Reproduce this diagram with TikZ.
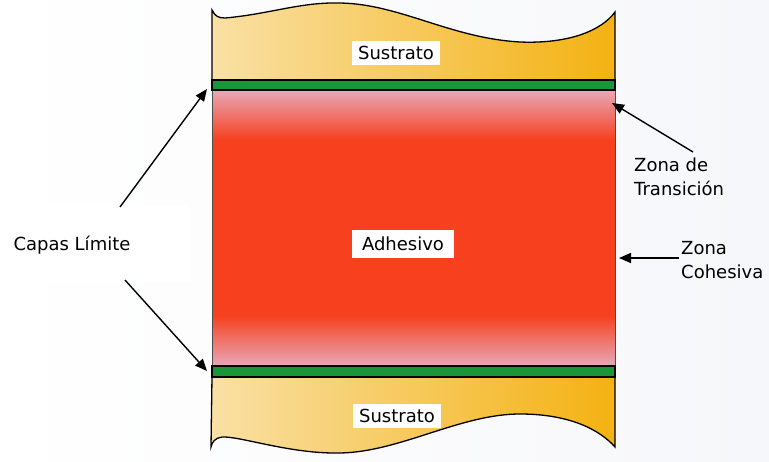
\documentclass[tikz,border=0pt]{standalone}
\usepackage{fontspec}
\setmainfont{DejaVu Sans}
\usetikzlibrary{arrows.meta}
\definecolor{sublight}{RGB}{249,224,165}
\definecolor{subdark}{RGB}{244,178,18}
\definecolor{adhred}{RGB}{246,64,30}
\definecolor{adhpink}{RGB}{232,168,184}
\definecolor{bandgreen}{RGB}{26,150,56}
\definecolor{bgright}{RGB}{246,247,250}
\tikzset{
  lbl/.style={font=\fontsize{18}{24}\selectfont, inner sep=0pt, align=left},
  boxlbl/.style={lbl, fill=white, inner xsep=6pt, inner ysep=5pt},
  outline/.style={draw=black, line width=1.3pt},
  ptr/.style={draw=black, line width=1.4pt, -{Triangle[length=12pt,width=10pt]}},
}
\begin{document}
\begin{tikzpicture}[x=1pt,y=-1pt]
\useasboundingbox (0,0) rectangle (769,461);
\shade[left color=white, right color=bgright] (0,0) rectangle (769,461);
\fill[white] (0,205) rectangle (190,282);
% top substrate
\shade[left color=sublight, right color=subdark]
  (212,10) .. controls (215,16) and (218,18) .. (225,18)
  .. controls (270,14) and (300,2) .. (340,3)
  .. controls (400,4) and (450,38) .. (520,42)
  .. controls (570,44) and (602,30) .. (615,12) -- (615,80) -- (212,80) -- cycle;
\draw[outline]
  (212,80) -- (212,10) .. controls (215,16) and (218,18) .. (225,18)
  .. controls (270,14) and (300,2) .. (340,3)
  .. controls (400,4) and (450,38) .. (520,42)
  .. controls (570,44) and (602,30) .. (615,12) -- (615,80);
% bottom substrate
\shade[left color=sublight, right color=subdark]
  (212,377) -- (615,377) -- (615,447)
  .. controls (600,430) and (570,414) .. (520,414)
  .. controls (460,414) and (400,452) .. (340,453)
  .. controls (290,454) and (240,436) .. (222,437)
  .. controls (215,438) and (212,442) .. (211,447) -- cycle;
\draw[outline]
  (615,377) -- (615,447)
  .. controls (600,430) and (570,414) .. (520,414)
  .. controls (460,414) and (400,452) .. (340,453)
  .. controls (290,454) and (240,436) .. (222,437)
  .. controls (215,438) and (212,442) .. (211,447) -- (212,377);
% adhesive
\fill[adhred] (212,140) rectangle (615,315);
\shade[top color=adhpink, bottom color=adhred] (212,90) rectangle (615,140);
\shade[top color=adhred, bottom color=adhpink] (212,315) rectangle (615,366);
\draw[black!70, line width=0.8pt] (212,90) -- (212,366) (615,90) -- (615,366);
% green bands
\fill[bandgreen] (212,80) rectangle (615,90);
\draw[black, line width=1.2pt] (212,80) rectangle (615,90);
\fill[bandgreen] (212,366) rectangle (615,377);
\draw[black, line width=1.2pt] (212,366) rectangle (615,377);
% labels
\node[boxlbl] (sustop) at (396,53) {Sustrato};
\node[boxlbl] (susbot) at (397,416) {Sustrato};
\node[boxlbl, inner xsep=10pt, inner ysep=7pt] (adh) at (403,244) {Adhesivo};
\node[lbl] (capas) at (72,245) {Capas Límite};
\node[lbl, anchor=north west] (trans) at (634,158) {Zona de\\Transición};
\node[lbl, anchor=north west] (cohes) at (681,241) {Zona\\Cohesiva};
% arrow targets
\coordinate (capasA) at (120,207);
\coordinate (capasB) at (125,280);
\coordinate (tgtTop) at (207,89);
\coordinate (tgtBot) at (207,371);
\coordinate (transA) at (693,152);
\coordinate (tgtTrans) at (612,103);
\coordinate (cohesA) at (679,258);
\coordinate (tgtCohes) at (619,258);
\draw[ptr] (capasA) -- (tgtTop);
\draw[ptr] (capasB) -- (tgtBot);
\draw[ptr] (transA) -- (tgtTrans);
\draw[ptr] (cohesA) -- (tgtCohes);
\end{tikzpicture}
\end{document}
